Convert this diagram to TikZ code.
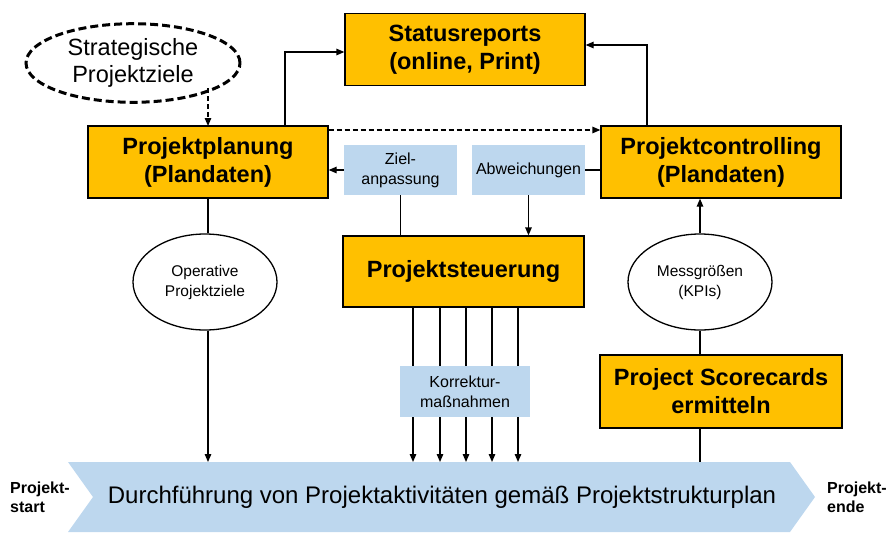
\documentclass[tikz,border=0pt]{standalone}
\usepackage{fontspec}
\setmainfont{Liberation Sans}
\usetikzlibrary{arrows.meta,shapes.geometric}
\definecolor{org}{HTML}{FFC000}
\definecolor{lblue}{HTML}{BDD7EE}
\begin{document}
\begin{tikzpicture}[x=1pt,y=-1pt,
  ob/.style={draw=black,line width=1.3pt,fill=org,minimum width=240pt,minimum height=72pt,align=center,font=\fontsize{23.5}{28}\selectfont\bfseries},
  bb/.style={fill=lblue,minimum width=113pt,minimum height=50pt,align=center,font=\fontsize{16}{20}\selectfont},
  el/.style={ellipse,draw=black,line width=1.3pt,minimum width=144pt,minimum height=96pt,align=center,font=\fontsize{15.5}{20}\selectfont},
  ar/.style={-{Triangle[length=8pt,width=6.5pt]},line width=1.3pt},
  ln/.style={line width=1.3pt},
  dsh/.style={dash pattern=on 5pt off 3pt},
  side/.style={align=left,font=\fontsize{16}{19}\selectfont\bfseries}]
\useasboundingbox (0,0) rectangle (896,533);
\fill[lblue] (68,462) -- (790,462) -- (815,497) -- (790,532) -- (68,532) -- (93,497) -- cycle;
\node[font=\fontsize{24}{28}\selectfont] (main) at (442,497) {Durchführung von Projektaktivitäten gemäß Projektstrukturplan};
\node[side] (start) at (40,497) {Projekt-\\start};
\node[side] (ende) at (857,497) {Projekt-\\ende};
\node[ellipse,draw=black,line width=3pt,dash pattern=on 8pt off 4pt,minimum width=214pt,minimum height=74pt,align=center,font=\fontsize{23.5}{27}\selectfont] (strat) at (133,63) {Strategische\\Projektziele};
\node[ob] (status) at (465,49.5) {Statusreports\\(online, Print)};
\node[ob] (plan) at (208,162) {Projektplanung\\(Plandaten)};
\node[ob] (ctrl) at (721,162) {Projektcontrolling\\(Plandaten)};
\node[ob,minimum width=241pt,minimum height=71pt] (steu) at (463.5,271.5) {Projektsteuerung};
\node[ob,minimum width=242pt,minimum height=73pt] (score) at (721,391.5) {Project Scorecards\\ermitteln};
\node[bb] (ziel) at (400.5,170) {Ziel-\\anpassung};
\node[bb] (abw) at (528.5,170) {Abweichungen};
\node[el] (oper) at (205,282) {Operative\\Projektziele};
\node[el] (mess) at (700,282) {Messgrößen\\(KPIs)};
\coordinate (s1) at (208,88);
\draw[ar,dsh] (s1) -- (208,126);
\draw[ar] (285,126) |- (status.west |- 0,52);
\draw[ar] (647,126) |- (status.east |- 0,45);
\draw[ar,dsh] (plan.east |- 0,130) -- (ctrl.west |- 0,130);
\draw[ar] (ziel.west) -- (plan.east |- ziel.west);
\draw[ln] (abw.east) -- (ctrl.west |- abw.east);
\draw[ln] (ziel.south) -- (ziel.south |- steu.north);
\draw[ar] (abw.south) -- (abw.south |- steu.north);
\draw[ln] (plan.south -| 208,0) -- (oper.north -| 208,0);
\draw[ar] (oper.south -| 208,0) -- (208,462);
\draw[ln] (score.north -| 700,0) -- (mess.south);
\draw[ar] (mess.north) -- (ctrl.south -| 700,0);
\draw[ln] (score.south -| 700,0) -- (700,462);
\foreach \x in {413,440,466,492,518} \draw[ar] (\x,307) -- (\x,462);
\node[bb,minimum width=130pt,minimum height=51pt] (korr) at (465,391.5) {Korrektur-\\maßnahmen};
\end{tikzpicture}
\end{document}
